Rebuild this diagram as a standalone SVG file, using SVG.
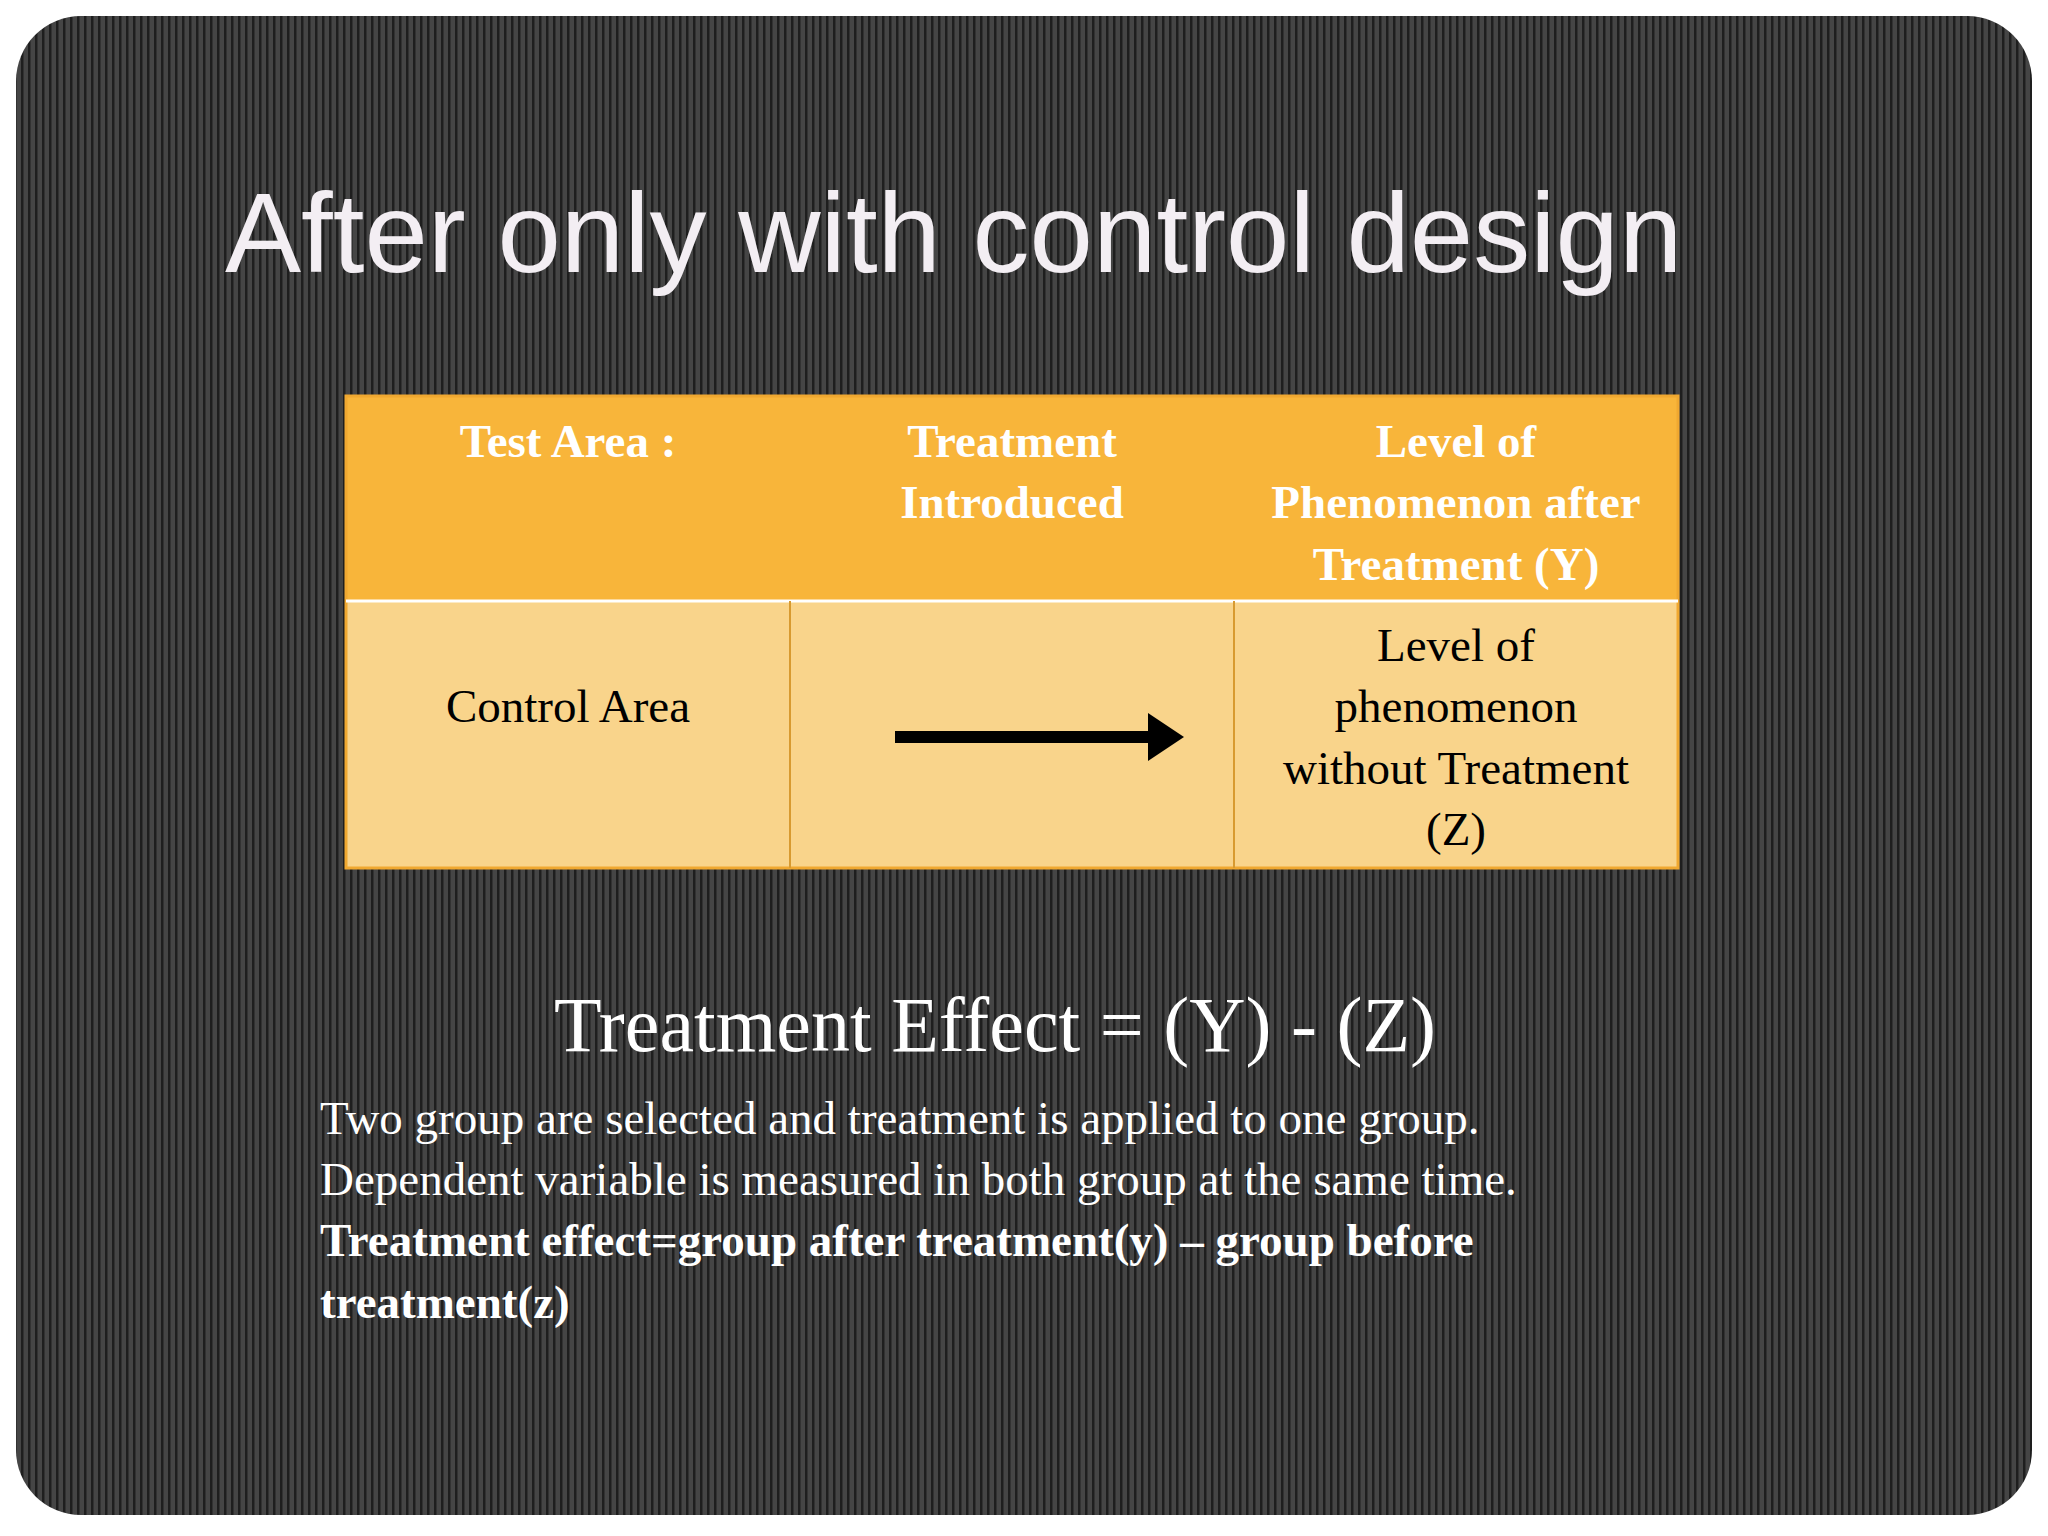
<svg xmlns="http://www.w3.org/2000/svg" width="2048" height="1536" viewBox="0 0 2048 1536">
<defs>
<pattern id="stripes" width="7" height="10" patternUnits="userSpaceOnUse">
<rect width="7" height="10" fill="#454545"/>
<rect width="2.5" height="10" fill="#1e1e1e"/>
</pattern>
<marker id="ah" markerWidth="4" markerHeight="4" refX="1.5" refY="2" orient="auto" markerUnits="strokeWidth">
<path d="M0,0 L3,2 L0,4 Z" fill="#000"/>
</marker>
<style>
.hd{font-family:"Liberation Serif",serif;font-weight:bold;font-size:47px;fill:#fff;text-anchor:middle}
.cl{font-family:"Liberation Serif",serif;font-size:47px;fill:#000;text-anchor:middle}
.pa{font-family:"Liberation Serif",serif;font-size:47px;fill:#fff}
</style>
</defs>
<rect width="2048" height="1536" fill="#fff"/>
<rect x="16" y="16" width="2016" height="1499" rx="65" fill="url(#stripes)"/>
<text x="225" y="272" font-family="Liberation Sans, sans-serif" font-size="114" fill="#f3eef3">After only with control design</text>
<g id="table">
<rect x="346" y="396" width="1332" height="205" fill="#f8b53a"/>
<rect x="346" y="601" width="1332" height="267" fill="#f9d48b"/>
<rect x="346" y="396" width="1332" height="472" fill="none" stroke="#f0a830" stroke-width="3"/>
<line x1="346" y1="601" x2="1678" y2="601" stroke="#fff" stroke-width="3"/>
<line x1="790" y1="601" x2="790" y2="868" stroke="#d89a30" stroke-width="2"/>
<line x1="1234" y1="601" x2="1234" y2="868" stroke="#d89a30" stroke-width="2"/>
</g>
<g id="h1"><text class="hd" x="568" y="457">Test Area :</text></g>
<g id="h2"><text class="hd" x="1012" y="457">Treatment</text><text class="hd" x="1012" y="518">Introduced</text></g>
<g id="h3"><text class="hd" x="1456" y="457">Level of</text><text class="hd" x="1456" y="518">Phenomenon after</text><text class="hd" x="1456" y="580">Treatment (Y)</text></g>
<g id="c1"><text class="cl" x="568" y="722">Control Area</text></g>
<g id="c3"><text class="cl" x="1456" y="661">Level of</text><text class="cl" x="1456" y="722">phenomenon</text><text class="cl" x="1456" y="784">without Treatment</text><text class="cl" x="1456" y="845">(Z)</text></g>
<g id="connectors"><line x1="895" y1="737" x2="1166" y2="737" stroke="#000" stroke-width="12" marker-end="url(#ah)"/></g>
<text x="995" y="1051" font-family="Liberation Serif, serif" font-size="78" fill="#fff" text-anchor="middle">Treatment Effect = (Y) - (Z)</text>
<text class="pa" x="320" y="1134">Two group are selected and treatment is applied to one group.</text>
<text class="pa" x="320" y="1195">Dependent variable is measured in both group at the same time.</text>
<text class="pa" x="320" y="1256" font-weight="bold">Treatment effect=group after treatment(y) – group before</text>
<text class="pa" x="320" y="1318" font-weight="bold">treatment(z)</text>
</svg>
